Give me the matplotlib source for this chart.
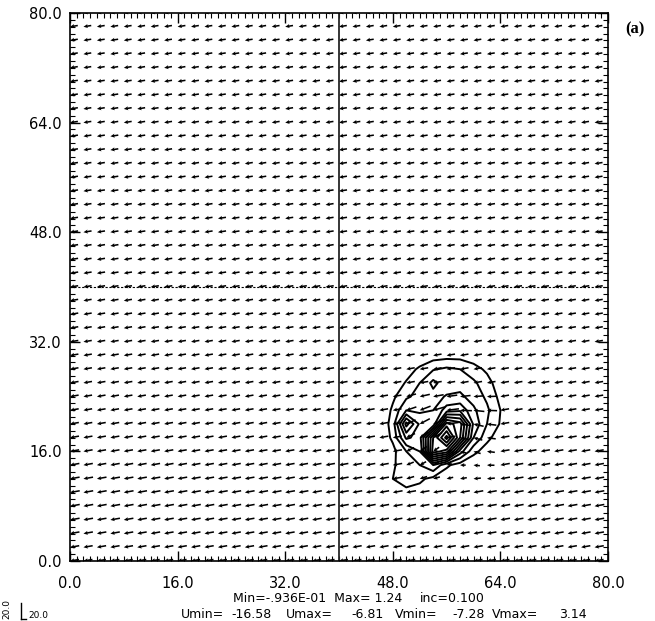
import numpy as np
import matplotlib.pyplot as plt
from matplotlib.lines import Line2D

plt.rcParams['font.family'] = ['DejaVu Sans']

# wind vector grid (every 2 units)
grid_x = np.arange(0, 81, 2)
grid_y = np.arange(0, 81, 2)

# background easterly per row, y = 0 .. 80
u_row = [-12.0, -12.3, -12.6, -12.8, -13.0, -13.0, -12.8, -12.5, -12.2, -12.0,
         -11.8, -11.6, -11.5, -11.4, -11.3, -11.2, -11.1, -11.0, -11.0, -10.9,
         -10.9, -10.9, -10.8, -10.8, -10.8, -10.7, -10.7, -10.7, -10.6, -10.6,
         -10.6, -10.6, -10.5, -10.5, -10.5, -10.5, -10.4, -10.4, -10.4, -10.4, -10.4]
v_row = [-2.0, -2.1, -2.2, -2.2, -2.3, -2.3, -2.2, -2.2, -2.1, -2.1,
         -2.0, -2.0, -2.0, -1.9, -1.9, -1.9, -1.8, -1.8, -1.8, -1.8,
         -1.7, -1.7, -1.7, -1.7, -1.7, -1.6, -1.6, -1.6, -1.6, -1.6,
         -1.6, -1.6, -1.6, -1.6, -1.6, -1.6, -1.6, -1.6, -1.6, -1.6, -1.6]

# storm circulation block around (56, 18)
storm_x = [50, 52, 54, 56, 58, 60, 62]
storm_y = [24, 22, 20, 18, 16, 14, 12]
storm_u = [[-13.0, -13.5, -14.0, -14.2, -14.0, -13.5, -13.0],
           [-13.5, -14.5, -15.8, -16.5, -15.8, -14.5, -13.5],
           [-12.5, -13.5, -15.0, -16.0, -15.0, -13.5, -12.5],
           [-11.7, -11.7, -11.7, -11.7, -11.7, -11.7, -11.7],
           [-10.5, -9.5, -8.0, -7.2, -8.0, -9.5, -10.5],
           [-10.0, -8.5, -7.5, -6.8, -7.5, -8.5, -10.0],
           [-10.5, -9.8, -9.0, -8.8, -9.0, -9.8, -10.5]]
storm_v = [[-3.5, -3.0, -2.5, -2.0, -1.5, -1.0, -0.5],
           [-4.5, -5.5, -4.5, -2.0, 0.5, 1.5, 0.5],
           [-5.5, -7.0, -6.0, -2.0, 2.0, 3.0, 1.5],
           [-5.5, -7.2, -6.5, -2.0, 2.5, 3.1, 1.5],
           [-5.0, -6.5, -5.5, -2.0, 2.0, 2.8, 1.2],
           [-4.0, -4.5, -4.0, -2.0, 0.0, 0.8, 0.2],
           [-3.0, -3.0, -2.5, -2.0, -1.5, -1.0, -1.0]]

# contoured field near the storm
field_x = [44, 46, 48, 50, 52, 54, 56, 58, 60, 62, 64, 66]
field_y = [8, 10, 12, 14, 16, 18, 20, 22, 24, 26, 28, 30, 32]
field = [
    [0, 0, 0, 0, 0, 0, 0, 0, 0, 0, 0, 0],
    [0, 0, 0.03, 0.07, 0.06, 0.02, 0, 0, 0, 0, 0, 0],
    [0, 0, 0.10, 0.15, 0.12, 0.07, 0.03, 0.01, 0, 0, 0, 0],
    [0, 0, 0.09, 0.14, 0.20, 0.30, 0.12, 0.05, 0.02, 0, 0, 0],
    [0, 0, 0.07, 0.20, 0.30, 0.95, 0.85, 0.35, 0.13, 0.05, 0, 0],
    [0, 0.02, 0.12, 0.42, 0.36, 0.90, 1.24, 0.80, 0.30, 0.13, 0.04, 0],
    [0, 0.02, 0.14, 0.64, 0.38, 0.32, 0.95, 0.85, 0.38, 0.20, 0.09, 0],
    [0, 0, 0.12, 0.30, 0.28, 0.30, 0.45, 0.48, 0.32, 0.22, 0.10, 0],
    [0, 0, 0.08, 0.18, 0.24, 0.26, 0.31, 0.32, 0.26, 0.18, 0.07, 0],
    [0, 0, 0.03, 0.11, 0.20, 0.33, 0.24, 0.26, 0.22, 0.14, 0.04, 0],
    [0, 0, 0, 0.05, 0.12, 0.19, 0.22, 0.20, 0.14, 0.08, 0.01, 0],
    [0, 0, 0, 0, 0.02, 0.05, 0.06, 0.06, 0.04, 0.01, 0, 0],
    [0, 0, 0, 0, 0, 0, 0, 0, 0, 0, 0, 0],
]
levels = [0.1, 0.2, 0.3, 0.4, 0.5, 0.6, 0.7, 0.8, 0.9, 1.0, 1.1, 1.2]

tick_vals = [0, 16, 32, 48, 64, 80]
tick_labels = ['0.0', '16.0', '32.0', '48.0', '64.0', '80.0']

# build vector arrays
U = np.tile(np.array(u_row)[:, None], (1, len(grid_x)))
V = np.tile(np.array(v_row)[:, None], (1, len(grid_x)))
for i, yy in enumerate(storm_y):
    for j, xx in enumerate(storm_x):
        U[yy // 2, xx // 2] = storm_u[i][j]
        V[yy // 2, xx // 2] = storm_v[i][j]
X, Y = np.meshgrid(grid_x, grid_y)

fig = plt.figure(figsize=(6.55, 6.21), dpi=100)
ax = fig.add_axes([0.1069, 0.0966, 0.8214, 0.8824])

ax.quiver(X, Y, U, V, pivot='tip', angles='xy', scale_units='xy', scale=9,
          width=0.0029, headwidth=2.6, headlength=2.8, headaxislength=2.4,
          color='k')
ax.contour(field_x, field_y, field, levels=levels, colors='k', linewidths=1.4)

ax.axvline(40, color='0.15', lw=1.3)
ax.axhline(40, color='k', lw=0.8, ls=(0, (2, 1.5)))

ax.set_xlim(0, 80)
ax.set_ylim(0, 80)
ax.set_xticks(tick_vals)
ax.set_xticklabels(tick_labels)
ax.set_yticks(tick_vals)
ax.set_yticklabels(tick_labels)
ax.set_xticks(np.arange(0, 81, 1), minor=True)
ax.set_yticks(np.arange(0, 81, 1), minor=True)
ax.tick_params(which='both', direction='in', top=True, right=True, color='k')
ax.tick_params(which='major', length=7, width=1.0, labelsize=10.5)
ax.tick_params(which='minor', length=3.5, width=0.8)
ax.tick_params(axis='x', pad=11)
ax.tick_params(axis='y', pad=6)
for s in ax.spines.values():
    s.set_linewidth(1.2)

fig.text(0.955, 0.952, '(a)', fontsize=12, fontweight='bold',
         family='Liberation Serif', ha='left', va='center')

# statistics lines under the plot
fig.text(233 / 655, 1 - 598 / 621, 'Min=-.936E-01  Max= 1.24', fontsize=9, va='center')
fig.text(420 / 655, 1 - 598 / 621, 'inc=0.100', fontsize=9, va='center')
parts = [(181, 'Umin='), (231, '-16.58'), (286, 'Umax='), (351, '-6.81'),
         (395, 'Vmin='), (452, '-7.28'), (492, 'Vmax='), (559, '3.14')]
for px, s in parts:
    fig.text(px / 655, 1 - 614 / 621, s, fontsize=9, va='center')

# reference vector legend
fig.add_artist(Line2D([21 / 655, 21 / 655], [1 - 603 / 621, 1 - 619 / 621],
                      transform=fig.transFigure, color='k', lw=1))
fig.add_artist(Line2D([21 / 655, 26 / 655], [1 - 619 / 621, 1 - 619 / 621],
                      transform=fig.transFigure, color='k', lw=1))
fig.text(28 / 655, 1 - 616 / 621, '20.0', fontsize=6.5, va='center')
fig.text(7 / 655, 1 - 609 / 621, '20.0', fontsize=6.5, rotation=90,
         ha='center', va='center')

fig.savefig('out.png', dpi=100)
